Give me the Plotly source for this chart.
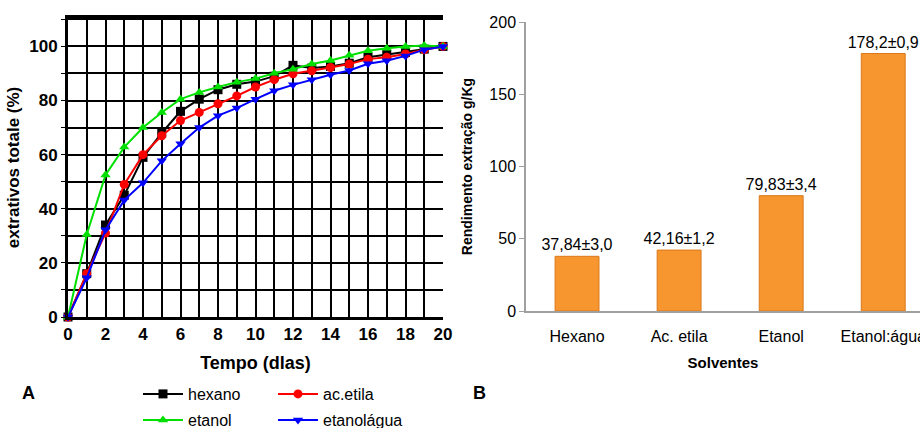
import plotly.graph_objects as go

# ---- Data: panel A (cumulative extraction, %) ----
dias = list(range(0, 21))
hexano = [0, 16, 34, 45, 59, 68, 76, 80.5, 84, 86, 87, 89, 93, 92, 92.6, 93.8, 96, 97, 97.8, 99, 100]
ac_etila = [0, 16, 31, 49, 60, 67, 72.6, 75.6, 78.8, 81.7, 85, 87.7, 89.9, 91, 92.2, 93.5, 95.3, 96, 97.2, 98.8, 100]
etanol = [0, 30.5, 52.5, 62.8, 70, 75.6, 80.5, 83, 85, 86.8, 88.1, 90.1, 91.6, 93.5, 94.8, 96.7, 98.4, 99.3, 100, 100.3, 100]
etanol_agua = [0, 14.5, 32.2, 43.2, 49.6, 57.7, 64, 70, 74.4, 77.2, 80.5, 83.6, 85.8, 87.7, 89.5, 91.1, 93.6, 94.7, 96.5, 98.8, 100]

# ---- Data: panel B (yield g/Kg) ----
solventes = ["Hexano", "Ac. etila", "Etanol", "Etanol:água"]
rendimento = [37.84, 42.16, 79.83, 178.2]
rotulos = ["37,84±3,0", "42,16±1,2", "79,83±3,4", "178,2±0,9"]

W, H = 920, 428
def px(x):
    return x / W
def py(y):
    return 1 - y / H

fig = go.Figure()

series = [
    ("hexano", hexano, "black", "square", "legend"),
    ("ac.etila", ac_etila, "red", "circle", "legend"),
    ("etanol", etanol, "#00E000", "triangle-up", "legend2"),
    ("etanolágua", etanol_agua, "blue", "triangle-down", "legend2"),
]
for name, vals, col, sym, leg in series:
    fig.add_trace(go.Scatter(
        x=dias, y=vals, name=name, mode="lines+markers",
        line=dict(color=col, width=2),
        marker=dict(symbol=sym, size=9, color=col),
        xaxis="x", yaxis="y", legend=leg, cliponaxis=False,
    ))

fig.add_trace(go.Bar(
    x=solventes, y=rendimento, text=rotulos, textposition="outside",
    texttemplate="%{text}", constraintext="none", cliponaxis=False,
    marker=dict(color="#F7952E", line=dict(color="#D9791C", width=1)),
    width=0.43, xaxis="x2", yaxis="y2", showlegend=False,
    textfont=dict(family="Liberation Sans, Arial", size=16, color="black"),
))

fig.update_layout(
    width=W, height=H,
    margin=dict(l=0, r=0, t=0, b=0, autoexpand=False),
    paper_bgcolor="white", plot_bgcolor="white",
    xaxis=dict(
        domain=[px(68), px(443)], anchor="y", range=[0, 20], automargin=False,
        dtick=2, tick0=0, showgrid=True, gridcolor="black", gridwidth=2,
        minor=dict(dtick=1, showgrid=True, gridcolor="black", gridwidth=2, ticks=""),
        showline=True, linecolor="black", linewidth=3, mirror=True,
        ticks="", zeroline=False,
        tickfont=dict(family="Liberation Sans, Arial", size=17, color="black", weight="bold"),
        title=dict(text="<b>Tempo (dlas)</b>", font=dict(family="Liberation Sans, Arial", size=18, color="black"), standoff=13),
    ),
    yaxis=dict(
        domain=[py(317), py(18)], anchor="x", range=[0, 110.5], automargin=False,
        tickvals=[0, 20, 40, 60, 80, 100],
        showgrid=True, gridcolor="black", gridwidth=2,
        minor=dict(tickvals=[10, 30, 50, 70, 90, 110], showgrid=True, gridcolor="black", gridwidth=2,
                   ticks="outside", ticklen=4, tickcolor="black"),
        showline=True, linecolor="black", linewidth=3,
        ticks="outside", ticklen=4, tickcolor="black", zeroline=False,
        tickfont=dict(family="Liberation Sans, Arial", size=17, color="black", weight="bold"),
        title=dict(text="<b>extrativos totale (%)</b>", font=dict(family="Liberation Sans, Arial", size=17, color="black"), standoff=6),
    ),
    xaxis2=dict(
        domain=[px(526), 1.0], anchor="y2", range=[-0.5, 3.36], automargin=False,
        showline=True, linecolor="#A0A0A0", linewidth=1.5, ticks="",
        ticklabelstandoff=10,
        tickfont=dict(family="Liberation Sans, Arial", size=16, color="black"),
        title=dict(text="<b>Solventes</b>", font=dict(family="Liberation Sans, Arial", size=15, color="black"), standoff=14),
        showgrid=False,
    ),
    yaxis2=dict(
        domain=[py(311), py(22)], anchor="x2", range=[0, 200], automargin=False,
        tickvals=[0, 50, 100, 150, 200],
        showline=True, linecolor="#A0A0A0", linewidth=1.5,
        ticks="outside", ticklen=5, tickcolor="#A0A0A0",
        showgrid=False, zeroline=False,
        tickfont=dict(family="Liberation Sans, Arial", size=16, color="black"),
        title=dict(text="<b>Rendimento extração g/Kg</b>", font=dict(family="Liberation Sans, Arial", size=14, color="black"), standoff=13),
    ),
    legend=dict(
        orientation="h", x=px(138), y=py(377), xanchor="left", yanchor="top",
        entrywidth=80, entrywidthmode="pixels",
        font=dict(family="Liberation Sans, Arial", size=16, color="black"),
        bgcolor="rgba(0,0,0,0)", itemwidth=40, tracegroupgap=0,
    ),
    legend2=dict(
        orientation="h", x=px(138), y=py(403), xanchor="left", yanchor="top",
        entrywidth=80, entrywidthmode="pixels",
        font=dict(family="Liberation Sans, Arial", size=16, color="black"),
        bgcolor="rgba(0,0,0,0)", itemwidth=40, tracegroupgap=0,
    ),
    annotations=[
        dict(text="<b>A</b>", x=px(20), y=py(405), xref="paper", yref="paper",
             showarrow=False, font=dict(family="Liberation Sans, Arial", size=18, color="black")),
        dict(text="<b>B</b>", x=px(479), y=py(405), xref="paper", yref="paper",
             showarrow=False, font=dict(family="Liberation Sans, Arial", size=18, color="black")),
    ],
)

fig.write_html("out.html")
